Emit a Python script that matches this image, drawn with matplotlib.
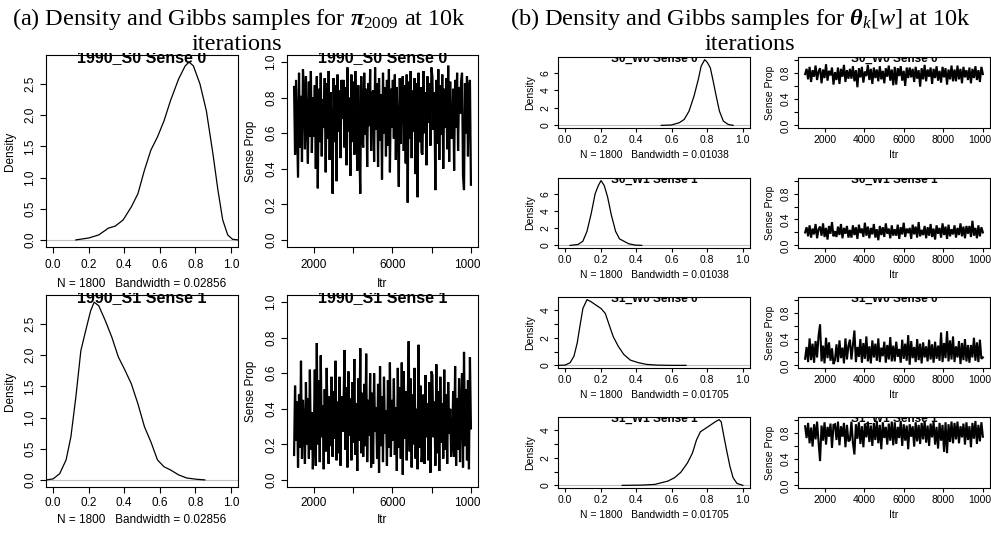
import numpy as np
import matplotlib
matplotlib.use("Agg")
import matplotlib.pyplot as plt
from matplotlib.patches import Rectangle
from matplotlib.transforms import Bbox, TransformedBbox

W, H = 991, 536

# ---- data ----
N_SAMPLES = 1800
ITR_FIRST, ITR_LAST = 1000, 10000

# (a) pi_2009 densities
a_s0_x = [0.128, 0.2, 0.257, 0.312, 0.349, 0.394, 0.44, 0.477, 0.514, 0.55, 0.587, 0.624,
          0.66, 0.706, 0.743, 0.765, 0.789, 0.826, 0.862, 0.899, 0.927, 0.954, 0.982, 1.009, 1.04]
a_s0_y = [0.0, 0.03, 0.08, 0.19, 0.22, 0.32, 0.53, 0.74, 1.12, 1.44, 1.65, 1.91,
          2.23, 2.58, 2.79, 2.85, 2.79, 2.5, 2.07, 1.38, 0.8, 0.32, 0.08, 0.01, 0.0]
a_s1_x = [-0.037, 0.0, 0.037, 0.073, 0.1, 0.128, 0.156, 0.183, 0.211, 0.231, 0.257, 0.294,
          0.33, 0.367, 0.404, 0.44, 0.477, 0.514, 0.55, 0.587, 0.624, 0.66, 0.706, 0.752,
          0.807, 0.853]
a_s1_y = [0.0, 0.016, 0.1, 0.32, 0.69, 1.33, 2.07, 2.39, 2.71, 2.85, 2.79, 2.55,
          2.29, 1.97, 1.76, 1.54, 1.22, 0.85, 0.61, 0.32, 0.21, 0.16, 0.08, 0.03,
          0.01, 0.0]

# (b) theta_k[w] densities
b_s0w0_x = [0.541, 0.596, 0.642, 0.67, 0.697, 0.725, 0.749, 0.765, 0.785, 0.80, 0.817,
            0.831, 0.85, 0.868, 0.89, 0.917, 0.945]
b_s0w0_y = [0.0, 0.04, 0.3, 0.68, 1.63, 3.34, 5.24, 6.76, 7.52, 7.2, 6.57,
            5.24, 3.34, 1.63, 0.49, 0.11, 0.0]
b_s0w1_x = [0.028, 0.073, 0.1, 0.123, 0.147, 0.169, 0.187, 0.202, 0.22, 0.239, 0.26,
            0.284, 0.306, 0.33, 0.358, 0.394, 0.431]
b_s0w1_y = [0.0, 0.11, 0.49, 1.63, 3.72, 6.0, 6.95, 7.52, 6.95, 5.62, 3.53,
            1.63, 0.76, 0.49, 0.19, 0.04, 0.0]
b_s1w0_x = [-0.037, 0.0, 0.028, 0.05, 0.068, 0.086, 0.1, 0.123, 0.147, 0.174, 0.202,
            0.226, 0.248, 0.27, 0.299, 0.33, 0.367, 0.413, 0.459, 0.514, 0.596, 0.68]
b_s1w0_y = [0.0, 0.02, 0.19, 0.67, 1.62, 3.05, 4.12, 4.76, 4.6, 4.36, 4.12,
            3.76, 2.93, 2.1, 1.38, 0.79, 0.38, 0.19, 0.07, 0.02, 0.0, 0.0]
b_s1w1_x = [0.321, 0.431, 0.505, 0.541, 0.578, 0.615, 0.651, 0.688, 0.716, 0.739, 0.761,
            0.789, 0.817, 0.844, 0.866, 0.878, 0.89, 0.908, 0.927, 0.945, 0.967, 1.0]
b_s1w1_y = [0.0, 0.02, 0.07, 0.19, 0.31, 0.55, 0.95, 1.62, 2.33, 3.29, 3.88,
            4.12, 4.36, 4.6, 4.76, 4.6, 3.76, 2.57, 1.38, 0.55, 0.14, 0.0]

# Gibbs traces (sense proportion per stored iteration, estimated)
a_s0_trace = [
    0.86, 0.48, 0.90, 0.62, 0.35, 0.94, 0.52, 0.81, 0.44, 0.96,
    0.83, 0.51, 0.92, 0.66, 0.43, 0.89, 0.58, 0.95, 0.49, 0.80,
    0.58, 0.87, 0.40, 0.92, 0.29, 0.85, 0.55, 0.94, 0.47, 0.79,
    0.63, 0.91, 0.38, 0.88, 0.57, 0.95, 0.45, 0.83, 0.60, 0.26,
    0.91, 0.55, 0.87, 0.33, 0.93, 0.61, 0.84, 0.46, 0.90, 0.68,
    0.90, 0.52, 0.86, 0.42, 0.97, 0.61, 0.80, 0.36, 0.93, 0.55,
    0.89, 0.48, 0.95, 0.64, 0.39, 0.87, 0.53, 0.26, 0.92, 0.58,
    0.52, 0.94, 0.59, 0.85, 0.41, 0.88, 0.64, 0.96, 0.50, 0.82,
    0.84, 0.44, 0.97, 0.62, 0.88, 0.41, 0.91, 0.56, 0.82, 0.34,
    0.94, 0.60, 0.86, 0.47, 0.90, 0.53, 0.96, 0.38, 0.85, 0.63,
    0.90, 0.57, 0.93, 0.45, 0.86, 0.62, 0.30, 0.91, 0.54, 0.87,
    0.92, 0.50, 0.87, 0.43, 0.93, 0.21, 0.89, 0.57, 0.95, 0.46,
    0.84, 0.61, 0.91, 0.37, 0.88, 0.24, 0.94, 0.55, 0.86, 0.49,
    0.48, 0.95, 0.60, 0.83, 0.42, 0.92, 0.66, 0.88, 0.53, 0.97,
    0.92, 0.62, 0.83, 0.28, 0.90, 0.54, 0.96, 0.45, 0.87, 0.59,
    0.93, 0.40, 0.85, 0.63, 0.91, 0.51, 0.98, 0.44, 0.89, 0.57,
    0.58, 0.85, 0.39, 0.90, 0.63, 0.94, 0.50, 0.86, 0.71, 0.89,
    0.94, 0.36, 0.28, 0.88, 0.60, 0.92, 0.47, 0.86, 0.90, 0.31]
a_s1_trace = [
    0.14, 0.53, 0.22, 0.44, 0.07, 0.48, 0.18, 0.67, 0.12, 0.45,
    0.31, 0.09, 0.55, 0.20, 0.46, 0.12, 0.62, 0.17, 0.38, 0.06,
    0.26, 0.62, 0.08, 0.77, 0.20, 0.56, 0.10, 0.70, 0.24, 0.42,
    0.06, 0.51, 0.16, 0.63, 0.29, 0.09, 0.47, 0.19, 0.58, 0.13,
    0.50, 0.23, 0.67, 0.11, 0.44, 0.15, 0.58, 0.08, 0.47, 0.27,
    0.40, 0.73, 0.17, 0.52, 0.07, 0.61, 0.25, 0.46, 0.11, 0.55,
    0.21, 0.68, 0.14, 0.43, 0.05, 0.57, 0.22, 0.74, 0.15, 0.49,
    0.13, 0.54, 0.19, 0.71, 0.10, 0.45, 0.25, 0.60, 0.07, 0.49,
    0.09, 0.60, 0.27, 0.41, 0.12, 0.54, 0.04, 0.64, 0.19, 0.47,
    0.10, 0.58, 0.26, 0.39, 0.08, 0.56, 0.18, 0.66, 0.13, 0.45,
    0.22, 0.57, 0.14, 0.41, 0.05, 0.63, 0.18, 0.52, 0.12, 0.66,
    0.03, 0.61, 0.23, 0.50, 0.11, 0.42, 0.78, 0.16, 0.57, 0.07,
    0.48, 0.20, 0.63, 0.12, 0.40, 0.06, 0.76, 0.18, 0.53, 0.10,
    0.16, 0.48, 0.09, 0.59, 0.24, 0.43, 0.11, 0.55, 0.04, 0.61,
    0.59, 0.24, 0.44, 0.08, 0.65, 0.15, 0.50, 0.05, 0.58, 0.21,
    0.43, 0.12, 0.62, 0.17, 0.48, 0.09, 0.55, 0.26, 0.40, 0.13,
    0.20, 0.50, 0.13, 0.64, 0.08, 0.46, 0.17, 0.57, 0.10, 0.42,
    0.60, 0.07, 0.72, 0.19, 0.51, 0.11, 0.56, 0.06, 0.69, 0.29]
b_s0w0_trace = [
    0.78, 0.86, 0.70, 0.89, 0.66, 0.84, 0.74, 0.91, 0.69, 0.82,
    0.87, 0.64, 0.85, 0.72, 0.93, 0.68, 0.83, 0.76, 0.88, 0.62,
    0.81, 0.69, 0.88, 0.63, 0.86, 0.74, 0.92, 0.66, 0.84, 0.71,
    0.86, 0.71, 0.90, 0.67, 0.84, 0.58, 0.87, 0.73, 0.89, 0.65,
    0.82, 0.75, 0.92, 0.69, 0.86, 0.63, 0.88, 0.72, 0.85, 0.67,
    0.90, 0.70, 0.83, 0.64, 0.87, 0.74, 0.91, 0.68, 0.85, 0.61,
    0.89, 0.62, 0.87, 0.75, 0.90, 0.68, 0.83, 0.60, 0.88, 0.72,
    0.88, 0.73, 0.86, 0.66, 0.89, 0.71, 0.84, 0.59, 0.87, 0.70,
    0.92, 0.67, 0.85, 0.74, 0.88, 0.63, 0.86, 0.72, 0.90, 0.68,
    0.83, 0.65, 0.89, 0.73, 0.87, 0.62, 0.85, 0.70, 0.91, 0.67,
    0.85, 0.67, 0.91, 0.70, 0.86, 0.64, 0.89, 0.73, 0.84, 0.69,
    0.88, 0.64, 0.86, 0.72, 0.90, 0.69, 0.84, 0.66, 0.89, 0.78]
b_s0w1_trace = [
    0.20, 0.28, 0.14, 0.31, 0.12, 0.26, 0.17, 0.33, 0.11, 0.25,
    0.29, 0.15, 0.34, 0.13, 0.27, 0.09, 0.30, 0.18, 0.36, 0.14,
    0.22, 0.13, 0.29, 0.16, 0.33, 0.11, 0.27, 0.18, 0.30, 0.12,
    0.24, 0.12, 0.31, 0.16, 0.28, 0.10, 0.32, 0.19, 0.26, 0.13,
    0.35, 0.15, 0.29, 0.11, 0.27, 0.17, 0.33, 0.12, 0.25, 0.08,
    0.30, 0.16, 0.28, 0.13, 0.34, 0.18, 0.26, 0.11, 0.31, 0.15,
    0.25, 0.15, 0.32, 0.10, 0.28, 0.17, 0.35, 0.13, 0.26, 0.19,
    0.27, 0.10, 0.32, 0.17, 0.29, 0.12, 0.36, 0.14, 0.24, 0.16,
    0.30, 0.11, 0.28, 0.15, 0.33, 0.13, 0.26, 0.09, 0.31, 0.18,
    0.27, 0.12, 0.34, 0.16, 0.29, 0.10, 0.32, 0.14, 0.25, 0.17,
    0.31, 0.12, 0.27, 0.16, 0.34, 0.14, 0.29, 0.11, 0.30, 0.18,
    0.30, 0.13, 0.38, 0.15, 0.27, 0.11, 0.31, 0.14, 0.28, 0.20]
b_s1w0_trace = [
    0.10, 0.28, 0.05, 0.41, 0.08, 0.33, 0.04, 0.37, 0.12, 0.45,
    0.62, 0.06, 0.30, 0.03, 0.42, 0.11, 0.35, 0.07, 0.26, 0.02,
    0.08, 0.32, 0.05, 0.38, 0.11, 0.27, 0.03, 0.41, 0.09, 0.30,
    0.39, 0.09, 0.31, 0.53, 0.05, 0.28, 0.13, 0.40, 0.04, 0.34,
    0.10, 0.44, 0.06, 0.29, 0.03, 0.38, 0.12, 0.33, 0.07, 0.41,
    0.05, 0.27, 0.14, 0.36, 0.04, 0.31, 0.09, 0.43, 0.06, 0.30,
    0.06, 0.36, 0.13, 0.25, 0.04, 0.39, 0.10, 0.33, 0.07, 0.46,
    0.01, 0.37, 0.11, 0.28, 0.05, 0.40, 0.08, 0.33, 0.03, 0.35,
    0.12, 0.29, 0.06, 0.39, 0.09, 0.32, 0.04, 0.36, 0.10, 0.30,
    0.07, 0.50, 0.05, 0.34, 0.11, 0.52, 0.06, 0.38, 0.09, 0.44,
    0.05, 0.29, 0.12, 0.37, 0.02, 0.34, 0.08, 0.40, 0.06, 0.31,
    0.04, 0.31, 0.12, 0.42, 0.07, 0.35, 0.05, 0.39, 0.10, 0.12]
b_s1w1_trace = [
    0.90, 0.72, 0.95, 0.64, 0.88, 0.59, 0.93, 0.70, 0.97, 0.66,
    0.37, 0.91, 0.68, 0.96, 0.62, 0.89, 0.74, 0.94, 0.57, 0.92,
    0.93, 0.69, 0.97, 0.61, 0.90, 0.74, 0.95, 0.58, 0.92, 0.67,
    0.69, 0.97, 0.65, 0.47, 0.93, 0.71, 0.96, 0.63, 0.90, 0.58,
    0.94, 0.73, 0.97, 0.66, 0.91, 0.60, 0.95, 0.69, 0.98, 0.64,
    0.92, 0.55, 0.96, 0.72, 0.89, 0.62, 0.94, 0.68, 0.97, 0.61,
    0.96, 0.63, 0.89, 0.72, 0.98, 0.60, 0.93, 0.68, 0.91, 0.55,
    0.93, 0.74, 0.90, 0.59, 0.96, 0.67, 0.92, 0.63, 0.95, 0.70,
    0.98, 0.65, 0.91, 0.60, 0.94, 0.73, 0.97, 0.62, 0.89, 0.56,
    0.95, 0.68, 0.92, 0.51, 0.96, 0.49, 0.93, 0.66, 0.97, 0.64,
    0.95, 0.70, 0.97, 0.64, 0.90, 0.73, 0.94, 0.62, 0.96, 0.69,
    0.90, 0.58, 0.95, 0.71, 0.98, 0.63, 0.92, 0.67, 0.96, 0.74]

titles_a = ["1990_S0 Sense 0", "1990_S1 Sense 1"]
titles_b = ["S0_W0 Sense 0", "S0_W1 Sense 1", "S1_W0 Sense 0", "S1_W1 Sense 1"]
bw_a = "0.02856"
bw_b = ["0.01038", "0.01038", "0.01705", "0.01705"]

plt.rcParams['font.family'] = ['Liberation Sans', 'DejaVu Sans']
plt.rcParams['mathtext.fontset'] = 'custom'
plt.rcParams['mathtext.rm'] = 'Liberation Serif'
plt.rcParams['mathtext.it'] = 'Liberation Serif:italic'
plt.rcParams['mathtext.bf'] = 'Liberation Serif:bold'
plt.rcParams['mathtext.bfit'] = 'Liberation Serif:bold:italic'

fig = plt.figure(figsize=(W / 100, H / 100), dpi=100)


def add_box(l, t, r, b):
    return fig.add_axes([l / W, 1 - b / H, (r - l) / W, (b - t) / H])


def style(ax, fs, tlen, xpad):
    for s in ax.spines.values():
        s.set_linewidth(0.8)
    ax.tick_params(direction='out', length=tlen, width=0.8, labelsize=fs)
    ax.tick_params(axis='x', pad=xpad)
    ax.tick_params(axis='y', labelrotation=90, pad=2.5)
    for lab in ax.get_yticklabels():
        lab.set_va('center')


def title(l, t, r, text, fs, base, cut):
    tx = fig.text((l + r) / 2 / W, 1 - (t + base) / H, text, ha='center',
                  va='baseline', fontsize=fs, fontweight='bold')
    clip = Bbox.from_extents(l / W, 0, r / W, 1 - (t - cut) / H)
    tx.set_clip_box(TransformedBbox(clip, fig.transFigure))
    tx.set_clip_on(True)


def density(box, x, y, name, bw, fs, tfs, yticks, ylabels, tlen, pads, tbase):
    ax = add_box(*box)
    ax.axhline(0, color='#bebebe', lw=0.8, zorder=1)
    ax.plot(x, y, color='black', lw=0.9, zorder=2)
    ax.set_xlim(-0.04, 1.04)
    ax.set_ylim(-0.04 * max(y), 1.04 * max(y))
    ax.set_xticks([0, 0.2, 0.4, 0.6, 0.8, 1.0])
    ax.set_xticklabels(['0.0', '0.2', '0.4', '0.6', '0.8', '1.0'])
    ax.set_yticks(yticks)
    ax.set_yticklabels(ylabels)
    ax.set_xlabel(f"N = {N_SAMPLES}   Bandwidth = {bw}", fontsize=fs, labelpad=pads[0])
    ax.set_ylabel("Density", fontsize=fs, labelpad=pads[1])
    style(ax, fs, tlen, pads[2])
    title(box[0], box[1], box[2], name, tfs, tbase[0], tbase[1])
    return ax


def trace(box, vals, name, fs, tfs, xlabels, yticks, ylabels, tlen, pads, tbase, lw):
    ax = add_box(*box)
    itr = np.linspace(ITR_FIRST, ITR_LAST, len(vals))
    ax.plot(itr, vals, color='black', lw=lw, solid_joinstyle='miter')
    ax.set_xlim(ITR_FIRST - 0.04 * (ITR_LAST - ITR_FIRST), ITR_LAST + 0.04 * (ITR_LAST - ITR_FIRST))
    ax.set_ylim(-0.04, 1.04)
    ax.set_xticks([2000, 4000, 6000, 8000, 10000])
    ax.set_xticklabels(xlabels)
    ax.set_yticks(yticks)
    ax.set_yticklabels(ylabels)
    ax.set_xlabel("Itr", fontsize=fs, labelpad=pads[0])
    ax.set_ylabel("Sense Prop", fontsize=fs, labelpad=pads[1])
    style(ax, fs, tlen, pads[2])
    title(box[0], box[1], box[2], name, tfs, tbase[0], tbase[1])
    return ax


# ---- panel (a) ----
fa, ta = 8.5, 11.5
a_yt = [0, 0.5, 1.0, 1.5, 2.0, 2.5]
a_yl = ['0.0', '0.5', '1.0', '1.5', '2.0', '2.5']
tr_yt = [0, 0.2, 0.4, 0.6, 0.8, 1.0]
a_tr_yl = ['0.0', '0.2', '0.4', '0.6', '0.8', '1.0']
a_tr_xl = ['2000', '', '6000', '', '10000']
top_pads, bot_pads = (5, 6, 4.5), (3.5, 6, 2.5)

density((46, 55, 238, 247), a_s0_x, a_s0_y, titles_a[0], bw_a, fa, ta, a_yt, a_yl, 4.5, top_pads, (7, 2))
trace((287, 55, 478, 247), a_s0_trace, titles_a[0], fa, ta, a_tr_xl, tr_yt, a_tr_yl, 4.5, top_pads, (7, 2), 1.6)
density((46, 295, 238, 487), a_s1_x, a_s1_y, titles_a[1], bw_a, fa, ta, a_yt, a_yl, 4.5, bot_pads, (7, 2))
trace((287, 295, 478, 487), a_s1_trace, titles_a[1], fa, ta, a_tr_xl, tr_yt, a_tr_yl, 4.5, bot_pads, (7, 2), 1.6)

# ---- panel (b) ----
fb, tb = 7.5, 8.5
rows = [(57, 128), (178, 248), (297, 368), (417, 488)]
b_dens = [(b_s0w0_x, b_s0w0_y), (b_s0w1_x, b_s0w1_y), (b_s1w0_x, b_s1w0_y), (b_s1w1_x, b_s1w1_y)]
b_traces = [b_s0w0_trace, b_s0w1_trace, b_s1w0_trace, b_s1w1_trace]
b_tr_yl = ['0.0', '', '0.4', '', '0.8', '']
b_tr_xl = ['2000', '4000', '6000', '8000', '10000']
for i, (t, b) in enumerate(rows):
    if i < 2:
        yt, yl = [0, 2, 4, 6], ['0', '2', '4', '6']
    else:
        yt, yl = [0, 1, 2, 3, 4], ['0', '', '2', '', '4']
    density((558, t, 750, b), b_dens[i][0], b_dens[i][1], titles_b[i], bw_b[i], fb, tb,
            yt, yl, 3, (4, 4, 2), (5, 0))
    trace((798, t, 990, b), b_traces[i], titles_b[i], fb, tb, b_tr_xl, tr_yt, b_tr_yl,
          3, (4, 4, 2), (5, 0), 1.5)

# right edge of panel (a) is cropped just past the trace boxes
fig.add_artist(Rectangle((481 / W, 0), 22 / W, 0.88, transform=fig.transFigure,
                         facecolor='white', edgecolor='none', zorder=10))

# ---- captions ----
cap = dict(ha='center', va='center', fontsize=17.5, family='Liberation Serif', zorder=11)
fig.text(239 / W, 1 - 19 / H, r"(a) Density and Gibbs samples for $\mathbfit{\pi}_{2009}$ at 10k", **cap)
fig.text(237 / W, 1 - 44 / H, "iterations", **cap)
fig.text(740 / W, 1 - 19 / H, r"(b) Density and Gibbs samples for $\mathbfit{\theta}_k[w]$ at 10k", **cap)
fig.text(750 / W, 1 - 44 / H, "iterations", **cap)

fig.savefig("out.png", dpi=100)
